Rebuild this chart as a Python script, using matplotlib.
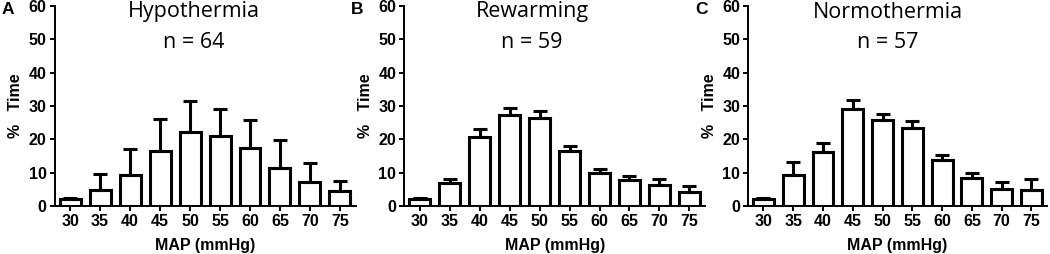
import matplotlib
matplotlib.use("Agg")
import matplotlib.pyplot as plt
import numpy as np

categories = ["30", "35", "40", "45", "50", "55", "60", "65", "70", "75"]

titles = ["Hypothermia", "Rewarming", "Normothermia"]
n_labels = ["n = 64", "n = 59", "n = 57"]
panel_letters = ["A", "B", "C"]

hypo_mean = [2.0, 4.8, 9.3, 16.4, 22.2, 20.9, 17.4, 11.5, 7.2, 4.5]
hypo_err = [0.4, 4.8, 7.7, 9.7, 9.4, 8.2, 8.3, 8.2, 5.8, 3.0]

rewarm_mean = [2.1, 7.0, 20.7, 27.4, 26.4, 16.4, 10.0, 7.8, 6.3, 4.2]
rewarm_err = [0.3, 1.0, 2.4, 2.0, 2.0, 1.7, 1.0, 1.2, 1.7, 1.8]

normo_mean = [2.0, 9.2, 16.2, 29.1, 25.9, 23.4, 13.7, 8.3, 5.2, 4.7]
normo_err = [0.5, 4.0, 2.8, 2.8, 1.7, 2.2, 1.5, 1.5, 2.1, 3.3]

means = [hypo_mean, rewarm_mean, normo_mean]
errs = [hypo_err, rewarm_err, normo_err]

fig = plt.figure(figsize=(10.5, 2.54), dpi=100)

lefts = [54.5 / 1050, 404 / 1050, 748 / 1050]
widths = [0.287, 0.287, 0.285]
title_x = [194 / 1050, 532 / 1050, 888 / 1050]
bottom = 1 - 206 / 254
height = (206 - 6) / 254

lab_font = dict(family="Liberation Sans", weight="bold", size=11.5)

for i in range(3):
    ax = fig.add_axes([lefts[i], bottom, widths[i], height])
    x = np.arange(len(categories))
    ax.bar(x, means[i], width=0.7, facecolor="white", edgecolor="black",
           linewidth=2.2, zorder=2)
    ax.errorbar(x, means[i], yerr=[np.zeros(len(x)), errs[i]], fmt="none",
                ecolor="black", elinewidth=2.2, capsize=4.7, capthick=2.2, zorder=3)
    ax.set_xlim(-0.52, 9.53)
    ax.set_ylim(0, 60)
    ax.set_yticks([0, 10, 20, 30, 40, 50, 60])
    ax.set_xticks(x)
    ax.set_xticklabels(categories)
    for sp in ["top", "right"]:
        ax.spines[sp].set_visible(False)
    for sp in ["left", "bottom"]:
        ax.spines[sp].set_linewidth(1.4)
    ax.tick_params(axis="both", direction="out", length=3.6, width=1.4, pad=2)
    for lab in ax.get_xticklabels() + ax.get_yticklabels():
        lab.set_fontfamily("Liberation Sans")
        lab.set_fontweight("bold")
        lab.set_fontsize(11.5)
    ax.set_xlabel("MAP (mmHg)", fontdict=lab_font, labelpad=6.5)
    ax.set_ylabel("%   Time", fontdict=lab_font, labelpad=4)
    fig.text(title_x[i], 1 - 12 / 254, titles[i], ha="center", va="center",
             fontfamily="Open Sans", fontsize=15.5)
    fig.text(title_x[i], 1 - 42 / 254, n_labels[i], ha="center", va="center",
             fontfamily="Open Sans", fontsize=15.5)
    fig.text(lefts[i] - 53 / 1050, 1 - 9 / 254, panel_letters[i], ha="left", va="center",
             fontfamily="Liberation Sans", fontweight="bold", fontsize=12.5)

fig.savefig("out.png", dpi=100)
